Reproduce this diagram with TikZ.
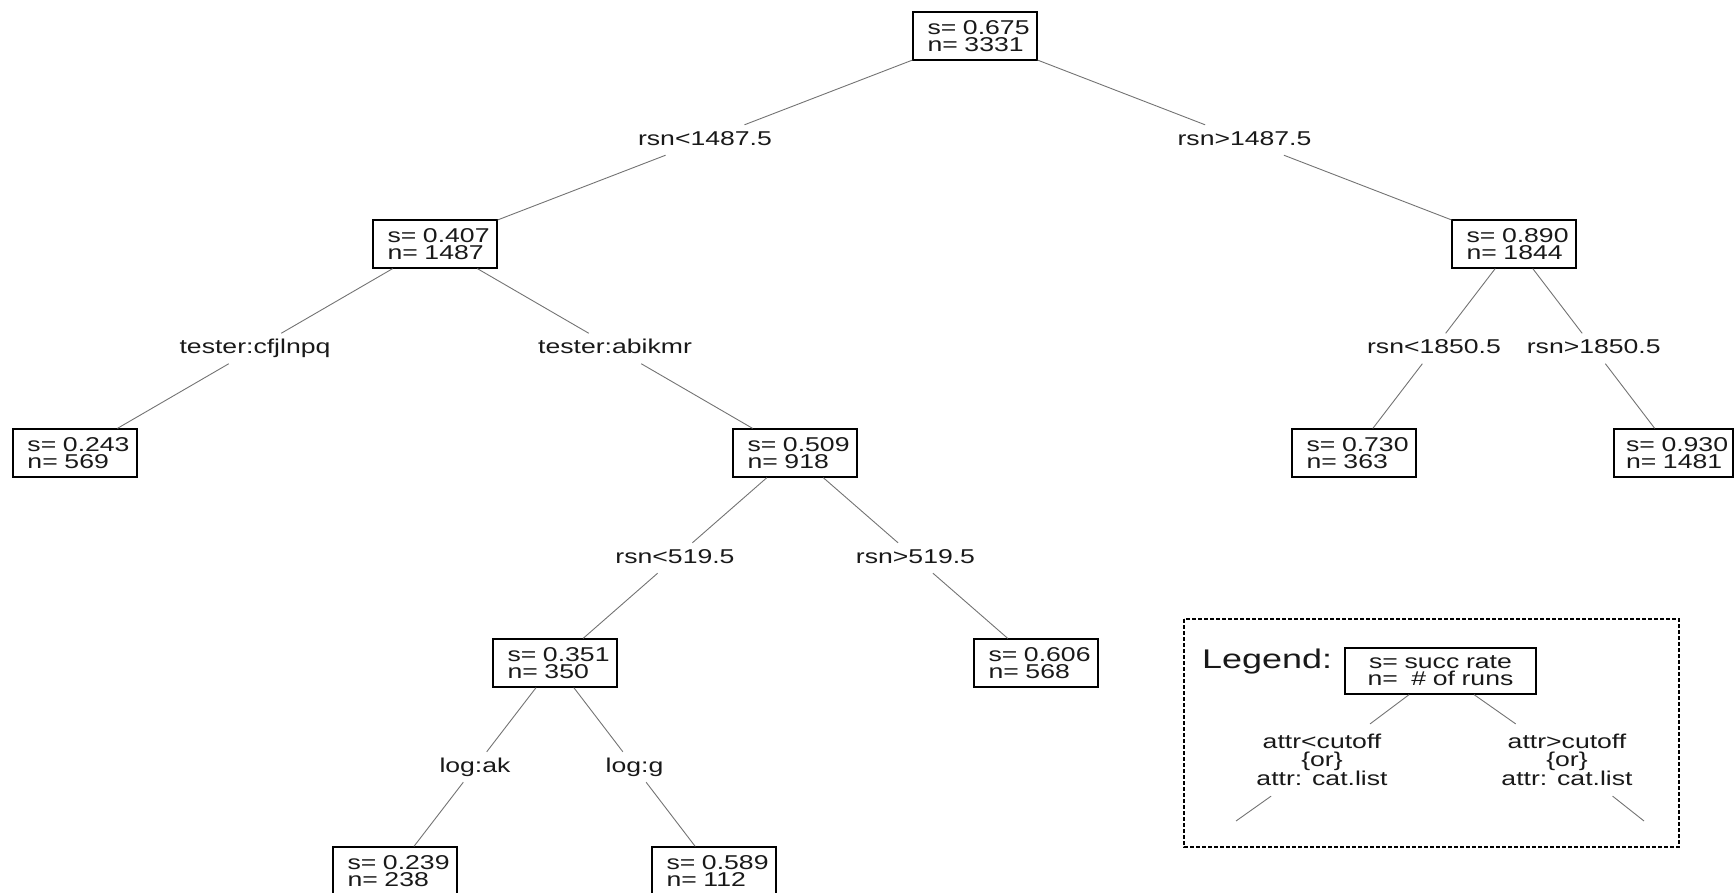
\documentclass[tikz,border=0pt]{standalone}
\usepackage{fontspec}
\setmainfont{Liberation Sans}[FakeStretch=1.33]
\usetikzlibrary{calc}
\newcommand\bfnt{\fontsize{20}{17}\selectfont}
\newcommand\lgfnt{\fontsize{27}{30}\selectfont}
\newcommand\sn[2]{\hspace*{8pt}s= #1\\\hspace*{8pt}n= #2}
\begin{document}
\begin{tikzpicture}[x=1pt,y=-1pt,
  box/.style={draw=black, line width=1.2pt, fill=white, font=\bfnt, align=left,
    text width=111pt, inner xsep=6.5pt, inner ysep=0pt, minimum height=48pt, text=black!90},
  lab/.style={font=\bfnt, inner xsep=3pt, inner ysep=6pt, text height=14pt, text depth=4pt, text=black!90},
  lglab/.style={font=\fontsize{20}{17.5}\selectfont, align=center, inner xsep=2pt, inner ysep=10pt, text=black!90},
  conn/.style={draw=black!55, line width=0.9pt},
]
\useasboundingbox (0,0) rectangle (1734,892);

% boxes
\node[box] (root) at (975,36)  {\sn{0.675}{3331}};
\node[box] (n407) at (435,244) {\sn{0.407}{1487}};
\node[box] (n890) at (1514,244) {\sn{0.890}{1844}};
\node[box] (n243) at (75,453)  {\sn{0.243}{569}};
\node[box] (n509) at (795,453) {\sn{0.509}{918}};
\node[box] (n730) at (1354,453) {\sn{0.730}{363}};
\node[box, inner xsep=4pt] (n930) at (1673.5,453) {\sn{0.930}{1481}};
\node[box] (n351) at (555,663) {\sn{0.351}{350}};
\node[box] (n606) at (1036,663) {\sn{0.606}{568}};
\node[box] (n239) at (395,871) {\sn{0.239}{238}};
\node[box] (n589) at (714,871) {\sn{0.589}{112}};

% split labels at branch midpoints
\node[lab] (s1) at ($(root)!0.5!(n407)$) {rsn<1487.5};
\node[lab] (s2) at ($(root)!0.5!(n890)$) {rsn>1487.5};
\node[lab] (s3) at ($(n407)!0.5!(n243)$) {tester:cfjlnpq};
\node[lab] (s4) at ($(n407)!0.5!(n509)$) {tester:abikmr};
\node[lab] (s5) at ($(n890)!0.5!(n730)$) {rsn<1850.5};
\node[lab] (s6) at ($(n890)!0.5!(n930)$) {rsn>1850.5};
\node[lab] (s7) at ($(n509)!0.5!(n351)$) {rsn<519.5};
\node[lab] (s8) at ($(n509)!0.5!(n606)$) {rsn>519.5};
\node[lab] (s9) at ($(n351)!0.5!(n239)$) {log:ak};
\node[lab] (s10) at ($(n351)!0.5!(n589)$) {log:g};

\draw[conn] (root) -- (s1) -- (n407);
\draw[conn] (root) -- (s2) -- (n890);
\draw[conn] (n407) -- (s3) -- (n243);
\draw[conn] (n407) -- (s4) -- (n509);
\draw[conn] (n890) -- (s5) -- (n730);
\draw[conn] (n890) -- (s6) -- (n930);
\draw[conn] (n509) -- (s7) -- (n351);
\draw[conn] (n509) -- (s8) -- (n606);
\draw[conn] (n351) -- (s9) -- (n239);
\draw[conn] (n351) -- (s10) -- (n589);

% legend
\draw[black, line width=1.2pt, dash pattern=on 4pt off 2pt] (1184,619) rectangle (1679,847);
\node[font=\lgfnt, anchor=base west, inner sep=0pt, text=black!90] (lgt) at (1202,668) {Legend:};
\node[box, align=center, text width=177pt, inner xsep=7pt, minimum height=46pt] (lgb) at (1440.5,671)
  {s= succ rate\\n=~~\# of runs};
\node[lglab] (lgL) at (1322,760) {attr<cutoff\\\{or\}\\attr: cat.list};
\node[lglab] (lgR) at (1567,760) {attr>cutoff\\\{or\}\\attr: cat.list};
\coordinate (lgLe) at (1236,821);
\coordinate (lgRe) at (1644,821);
\draw[conn] (lgb) -- (lgL) -- (lgLe);
\draw[conn] (lgb) -- (lgR) -- (lgRe);
\end{tikzpicture}
\end{document}
